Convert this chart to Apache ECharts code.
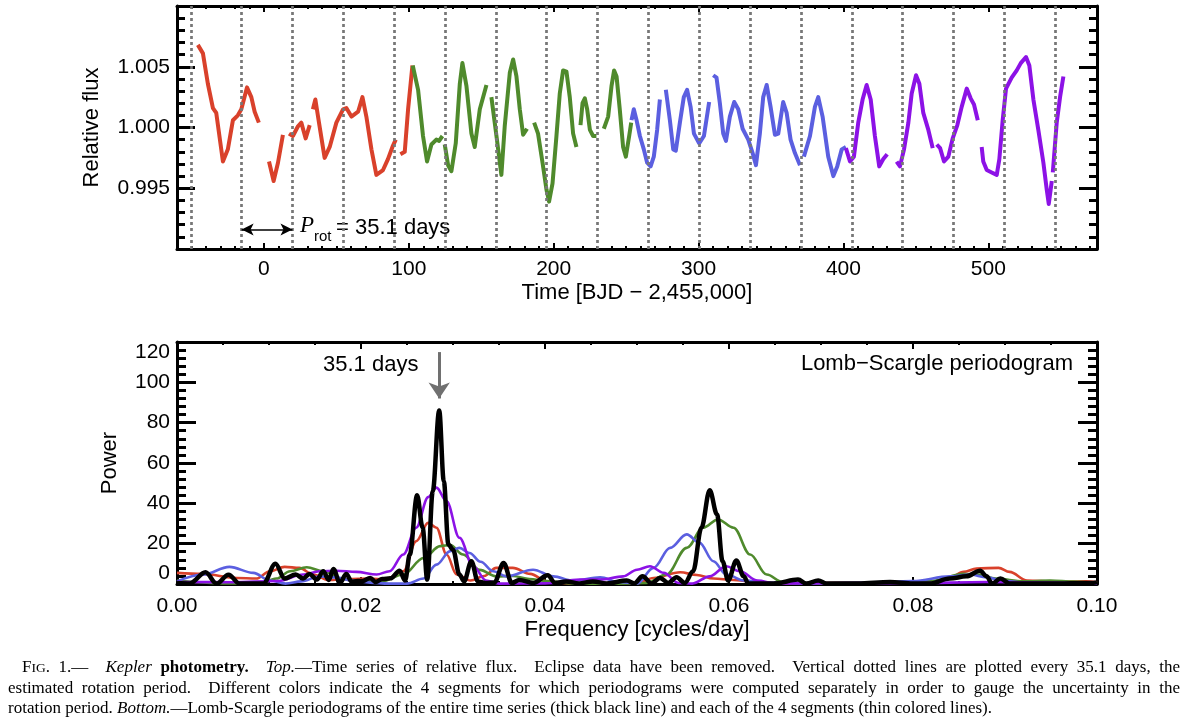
<!DOCTYPE html>
<html>
<head>
<meta charset="utf-8">
<script src="https://cdn.jsdelivr.net/npm/echarts@6/dist/echarts.min.js"></script>
<style>
html,body{margin:0;padding:0;background:#fff;}
#chart{position:absolute;left:0;top:0;width:1184px;height:720px;}
.cap{position:absolute;font-family:"Liberation Serif","Times New Roman",serif;font-size:17px;line-height:20px;color:#000;white-space:nowrap;}
.just{text-align:justify;text-align-last:justify;}
.sc{font-size:13.5px;}
</style>
</head>
<body>
<div id="chart"></div>
<div class="cap just" style="left:22px;top:657px;width:1158px;">F<span class="sc">IG</span>. 1.— &nbsp;<i>Kepler</i> <b>photometry.</b> &nbsp;<i>Top.</i>—Time series of relative flux. &nbsp;Eclipse data have been removed. &nbsp;Vertical dotted lines are plotted every 35.1 days, the</div>
<div class="cap just" style="left:8px;top:678px;width:1172px;">estimated rotation period. &nbsp;Different colors indicate the 4 segments for which periodograms were computed separately in order to gauge the uncertainty in the</div>
<div class="cap" style="left:8px;top:698px;">rotation period. <i>Bottom.</i>—Lomb-Scargle periodograms of the entire time series (thick black line) and each of the 4 segments (thin colored lines).</div>
<script>
// ---------- Top panel: relative flux time series (null = data gap) ----------
var redT = [-45.6,-42.1,-38.7,-35.2,-32.9,-28.3,-24.9,-21.4,-18.0,-15.6,-11.7,-8.7,-6.4,-3.5,null,3.5,6.7,9.7,13.1,null,17.3,20.0,23.5,25.8,28.8,31.6,null,33.8,35.5,38.0,41.9,45.4,50.0,54.6,56.9,60.4,65.0,68.0,70.7,74.2,77.6,82.2,85.6,88.7,91.0,null,94.2,97.2,99.5,102.5];
var redF = [1.0068,1.0061,1.0036,1.0016,1.0012,0.9972,0.9982,1.0006,1.0010,1.0015,1.0033,1.0025,1.0013,1.0004,null,0.9972,0.9956,0.9971,0.9994,null,0.9995,0.9993,1.0001,1.0004,0.9991,1.0002,null,1.0015,1.0023,1.0004,0.9975,0.9984,1.0004,1.0015,1.0016,1.0009,1.0013,1.0025,1.0009,0.9982,0.9961,0.9965,0.9974,0.9984,0.9990,null,0.9978,0.9980,1.0015,1.0051];
var greenT = [102.7,106.4,109.8,112.6,115.6,119.0,120.9,123.2,null,124.8,127.1,129.4,132.4,135.2,137.0,139.8,143.2,145.5,149.0,153.6,null,157.0,160.5,163.9,166.2,169.7,172.0,174.3,176.6,178.9,181.6,null,186.5,189.2,192.3,195.0,196.8,199.2,201.9,204.2,206.5,208.8,211.1,213.4,215.7,null,218.5,219.9,221.5,223.1,225.0,227.2,229.5,null,234.6,237.6,239.9,241.7,243.4,245.6,247.9,249.8,252.1,253.5];
var greenF = [1.0051,1.0031,0.9993,0.9972,0.9986,0.9990,0.9989,0.9993,null,0.9986,0.9969,0.9964,0.9987,1.0036,1.0053,1.0034,0.9995,0.9984,1.0015,1.0035,null,1.0025,0.9993,0.9961,1.0001,1.0045,1.0056,1.0042,1.0015,0.9994,0.9999,null,1.0004,0.9995,0.9971,0.9949,0.9939,0.9954,0.9993,1.0028,1.0047,1.0046,1.0025,0.9995,0.9984,null,1.0002,1.0020,1.0024,1.0015,0.9998,0.9993,0.9993,null,0.9999,1.0009,1.0034,1.0047,1.0042,1.0015,0.9984,0.9976,0.9993,1.0004];
var blueT = [253.7,255.3,257.2,259.5,262.2,264.5,266.9,269.1,271.4,273.3,null,277.4,280.2,282.5,284.3,287.1,289.8,292.1,294.5,296.8,300.4,303.7,307.3,null,310.1,312.4,314.7,317.0,318.9,321.6,324.6,327.4,330.4,334.3,337.3,339.6,342.3,344.6,347.0,349.7,352.7,355.0,358.4,360.8,363.5,366.5,370.0,null,372.7,376.9,380.3,382.6,385.6,389.5,393.0,395.7,398.8,401.7];
var blueF = [1.0006,1.0015,1.0006,0.9993,0.9982,0.9971,0.9968,0.9976,0.9998,1.0023,null,1.0031,1.0006,0.9982,0.9981,1.0004,1.0025,1.0031,1.0017,0.9995,0.9987,0.9993,1.0021,null,1.0043,1.0041,1.0020,0.9995,0.9989,1.0009,1.0021,1.0015,0.9999,0.9990,0.9979,0.9969,0.9995,1.0025,1.0035,1.0017,0.9994,0.9995,1.0021,1.0012,0.9990,0.9979,0.9969,null,0.9976,0.9993,1.0017,1.0025,1.0009,0.9976,0.9960,0.9968,0.9982,0.9984];
var purpleT = [401.7,404.5,407.2,410.2,413.2,416.0,418.8,421.7,424.7,427.5,430.2,null,436.7,439.0,441.8,444.8,447.1,450.1,452.4,455.1,458.6,461.6,null,464.4,466.7,469.4,472.4,475.4,478.6,481.6,485.1,487.8,490.1,492.7,null,495.4,496.5,498.9,502.3,505.8,507.6,509.9,512.2,516.1,519.6,522.4,526.0,528.3,531.1,534.5,538.0,540.3,541.7,543.8,null,544.5,547.2,549.5,551.8];
var purpleF = [0.9983,0.9972,0.9976,1.0004,1.0023,1.0035,1.0023,0.9993,0.9968,0.9974,0.9978,null,0.9972,0.9968,0.9982,1.0004,1.0028,1.0043,1.0036,1.0012,0.9998,0.9983,null,0.9986,0.9983,0.9972,0.9976,0.9991,1.0002,1.0017,1.0032,1.0024,1.0019,1.0006,null,0.9984,0.9972,0.9965,0.9963,0.9961,0.9974,1.0006,1.0032,1.0041,1.0047,1.0053,1.0058,1.0051,1.0023,0.9998,0.9971,0.9949,0.9937,0.9956,null,0.9963,1.0004,1.0025,1.0042];
// vertical dotted lines (every 35.1 days)
var dotTimes = [-50.5,-15.4,19.7,54.8,89.9,125.0,160.1,195.2,230.3,265.4,300.5,335.6,370.7,405.8,440.9,476.0,511.1,546.2];
var protArrow = [-15.4, 19.7, 0.9916];
var timeTicks = [0,100,200,300,400,500];

// ---------- Bottom panel: Lomb-Scargle periodograms ----------
var freqBlack = [0.0,0.0014,0.0031,0.0043,0.0056,0.0068,0.0094,0.0107,0.0117,0.0129,0.0137,0.0144,0.0152,0.0159,0.0165,0.0170,0.0177,0.0184,0.0190,0.0196,0.0202,0.0210,0.0216,0.0223,0.0232,0.0242,0.0248,0.0253,0.0261,0.0267,0.0272,0.0278,0.0285,0.0290,0.0295,0.0300,0.0307,0.0312,0.0320,0.0327,0.0335,0.0345,0.0355,0.0364,0.0372,0.0387,0.0403,0.0411,0.0423,0.0437,0.0452,0.0467,0.0489,0.0497,0.0506,0.0516,0.0525,0.0534,0.0543,0.0552,0.0561,0.0570,0.0579,0.0587,0.0593,0.0599,0.0608,0.0616,0.0621,0.0650,0.0675,0.0684,0.0697,0.0706,0.0740,0.0775,0.0800,0.0818,0.0840,0.0858,0.0873,0.0880,0.0886,0.0895,0.0905,0.0950,0.0993,0.1000];
var powBlack  = [0.5,0.3,5.8,0.2,4.6,0.2,0.3,10.0,2.7,4.7,2.7,5.0,2.2,6.3,2.0,7.5,0.5,5.0,1.0,1.5,1.5,3.0,1.0,2.5,2.8,6.6,1.7,14.6,44,27.9,2.2,46,86,51,19.6,17,4.7,1.3,11.3,1.3,0.5,0.8,10.4,0.5,2.0,0.5,4.3,0.5,1.3,0.3,1.3,0.3,1.7,0.3,3.8,0.3,3.0,0.5,3.3,0.5,6.3,27.9,46.5,34.5,11.3,1.7,11.6,3.8,0.2,0.3,2.2,0.2,1.7,0.2,0.3,1.0,0.2,0.2,2.7,3.8,6.6,3.8,0.2,2.7,0.2,0.2,0.5,0.8];
var freqRed = [0.0,0.0028,0.0065,0.0086,0.0101,0.0117,0.0133,0.0148,0.0165,0.0185,0.0210,0.0226,0.0246,0.0260,0.0273,0.0282,0.0293,0.0304,0.0319,0.0334,0.0347,0.0365,0.0384,0.0402,0.0430,0.0470,0.0500,0.0518,0.0547,0.0565,0.0583,0.0605,0.0620,0.0640,0.0680,0.0750,0.0820,0.0840,0.0855,0.0869,0.0893,0.0905,0.0924,0.0955,0.0988,0.1000];
var powRed  = [5.5,5.0,3.0,2.7,6.3,8.5,8.0,4.7,2.0,2.5,2.7,2.2,6.3,21.2,30.3,27.9,14.6,4.7,1.7,4.0,8.0,8.0,5.0,1.3,0.2,0.5,0.5,3.0,5.8,4.5,2.7,2.0,1.5,0.5,0.3,0.8,0.8,3.0,6.0,7.7,8.0,6.0,1.7,1.2,1.3,0.8];
var freqGreen = [0.0,0.0050,0.0090,0.0108,0.0123,0.0141,0.0159,0.0180,0.0200,0.0222,0.0246,0.0268,0.0286,0.0297,0.0311,0.0329,0.0347,0.0365,0.0383,0.0402,0.0430,0.0480,0.0510,0.0532,0.0554,0.0572,0.0588,0.0605,0.0623,0.0641,0.0658,0.0680,0.0760,0.0820,0.0855,0.0870,0.0890,0.0920,0.0949,0.0975,0.1000];
var powGreen  = [1.7,0.3,0.3,2.7,6.3,8.3,6.3,2.5,1.5,1.2,4.7,12.9,18.8,19.3,14.6,7.0,3.8,4.0,2.5,1.5,0.2,0.2,0.5,4.7,17.9,27.9,32.0,27.9,14.6,4.7,1.0,0.2,0.5,1.5,5.0,4.7,2.7,1.3,1.7,1.2,0.3];
var freqBlue = [0.0,0.0028,0.0057,0.0083,0.0101,0.0118,0.0135,0.0155,0.0173,0.0190,0.0210,0.0230,0.0250,0.0268,0.0282,0.0297,0.0307,0.0318,0.0330,0.0344,0.0358,0.0387,0.0409,0.0430,0.0460,0.0480,0.0500,0.0518,0.0536,0.0554,0.0568,0.0583,0.0597,0.0617,0.0640,0.0680,0.0750,0.0800,0.0840,0.0862,0.0880,0.0900,0.0930,0.1000];
var powBlue  = [1.3,4.7,8.5,5.5,1.7,0.2,1.3,3.8,3.3,1.7,0.7,0.2,0.2,2.7,9.6,16.3,17.9,15.4,11.0,6.3,3.8,7.1,3.8,1.7,3.3,1.0,0.2,8.0,17.9,24.6,20.4,11.3,4.7,1.7,0.7,0.3,0.7,1.5,3.8,4.7,3.3,1.5,0.3,0.2];
var freqPurple = [0.0,0.0060,0.0110,0.0137,0.0155,0.0173,0.0195,0.0217,0.0231,0.0246,0.0260,0.0273,0.0282,0.0293,0.0307,0.0322,0.0336,0.0350,0.0400,0.0438,0.0460,0.0485,0.0500,0.0514,0.0529,0.0545,0.0560,0.0579,0.0597,0.0612,0.0631,0.0650,0.0800,0.0880,0.1000];
var powPurple  = [1.0,0.9,1.5,4.7,6.3,6.6,6.0,4.7,6.3,14.6,27.9,43.1,47.8,41.1,22.9,8.8,1.7,0.2,0.3,2.2,2.2,3.8,7.1,8.8,5.5,0.5,0.2,3.8,8.8,6.3,1.7,0.3,0.4,1.0,0.3];
var peakArrow = [0.0285, 115, 92];

var COL = {red:'#d9412b', green:'#4f8a2c', blue:'#5b5fe0', purple:'#8c12e6', black:'#000000'};
var SANS = '"Liberation Sans", Arial, Helvetica, sans-serif';
var SERIF = '"Liberation Serif", "Times New Roman", serif';

function pairs(xs, ys){
  return xs.map(function(x,i){ return (ys[i]===null||x===null) ? ['-','-'] : [x, ys[i]]; });
}
var frameLine = {show:true, onZero:false, lineStyle:{color:'#000', width:3}};

function xAx(grid, pos, opts){
  var a = {gridIndex:grid, type:'value', position:pos, splitLine:{show:false},
    axisLine:frameLine, axisLabel:{show:false}, axisTick:{show:false}};
  for (var k in opts) a[k]=opts[k];
  return a;
}

var option = {
  animation:false,
  backgroundColor:'#ffffff',
  textStyle:{fontFamily:SANS},
  grid:[
    {left:177, top:6, width:920, height:243},
    {left:177, top:342, width:920, height:242}
  ],
  xAxis:[
    xAx(0,'bottom',{min:-60,max:575,
      axisTick:{show:true,inside:true,length:6,customValues:timeTicks,lineStyle:{color:'#000',width:2}},
      axisLabel:{show:true,customValues:timeTicks,color:'#000',fontSize:21,margin:10,fontFamily:SANS},
      name:'Time [BJD \u2212 2,455,000]',nameLocation:'middle',nameGap:33,
      nameTextStyle:{color:'#000',fontSize:22,fontFamily:SANS}}),
    xAx(0,'bottom',{min:-60,max:575,interval:10,axisLine:{show:false},
      axisTick:{show:true,inside:true,length:3,lineStyle:{color:'#000',width:2}}}),
    xAx(0,'top',{min:-60,max:575,
      axisTick:{show:true,inside:true,length:6,customValues:timeTicks,lineStyle:{color:'#000',width:2}}}),
    xAx(0,'top',{min:-60,max:575,interval:10,axisLine:{show:false},
      axisTick:{show:true,inside:true,length:3,lineStyle:{color:'#000',width:2}}}),
    xAx(1,'bottom',{min:0,max:0.1,interval:0.02,
      axisTick:{show:true,inside:true,length:7,lineStyle:{color:'#000',width:2}},
      minorTick:{show:true,splitNumber:4,length:3,lineStyle:{color:'#000',width:2}},
      axisLabel:{show:true,color:'#000',fontSize:21,margin:12,fontFamily:SANS,
        formatter:function(v){return v.toFixed(2);}},
      name:'Frequency [cycles/day]',nameLocation:'middle',nameGap:35,
      nameTextStyle:{color:'#000',fontSize:22,fontFamily:SANS}}),
    xAx(1,'top',{min:0,max:0.1,interval:0.02,
      axisTick:{show:true,inside:true,length:7,lineStyle:{color:'#000',width:2}},
      minorTick:{show:true,splitNumber:4,length:3,lineStyle:{color:'#000',width:2}}})
  ],
  yAxis:[
    {gridIndex:0,type:'value',position:'left',min:0.990,max:1.010,interval:0.005,
      splitLine:{show:false},axisLine:frameLine,
      axisTick:{show:true,inside:true,length:18,lineStyle:{color:'#000',width:3}},
      minorTick:{show:true,splitNumber:5,length:8,lineStyle:{color:'#000',width:3}},
      axisLabel:{show:true,color:'#000',fontSize:21,margin:7,fontFamily:SANS,showMinLabel:false,showMaxLabel:false,
        formatter:function(v){return v.toFixed(3);}},
      name:'Relative flux',nameLocation:'middle',nameGap:74,
      nameTextStyle:{color:'#000',fontSize:22,fontFamily:SANS}},
    {gridIndex:0,type:'value',position:'right',min:0.990,max:1.010,interval:0.005,
      splitLine:{show:false},axisLine:frameLine,axisLabel:{show:false},
      axisTick:{show:true,inside:true,length:18,lineStyle:{color:'#000',width:3}},
      minorTick:{show:true,splitNumber:5,length:8,lineStyle:{color:'#000',width:3}}},
    {gridIndex:1,type:'value',position:'left',min:0,max:120,interval:20,
      splitLine:{show:false},axisLine:frameLine,
      axisTick:{show:true,inside:true,length:19,lineStyle:{color:'#000',width:3}},
      minorTick:{show:true,splitNumber:5,length:9,lineStyle:{color:'#000',width:3}},
      axisLabel:{show:true,color:'#000',fontSize:21,margin:7,fontFamily:SANS,
        verticalAlignMaxLabel:'top',verticalAlignMinLabel:'bottom'},
      name:'Power',nameLocation:'middle',nameGap:56,
      nameTextStyle:{color:'#000',fontSize:22,fontFamily:SANS}},
    {gridIndex:1,type:'value',position:'right',min:0,max:120,interval:20,
      splitLine:{show:false},axisLine:frameLine,axisLabel:{show:false},
      axisTick:{show:true,inside:true,length:19,lineStyle:{color:'#000',width:3}},
      minorTick:{show:true,splitNumber:5,length:9,lineStyle:{color:'#000',width:3}}}
  ],
  series:[
    {type:'line',xAxisIndex:0,yAxisIndex:0,data:[],silent:true,
      markLine:{silent:true,symbol:'none',animation:false,label:{show:false},
        lineStyle:{color:'#777777',type:[3,3],width:2.7},
        data:dotTimes.map(function(t){return {xAxis:t};})}},
    {type:'line',name:'seg1',xAxisIndex:0,yAxisIndex:0,data:pairs(redT,redF),showSymbol:false,
      lineStyle:{color:COL.red,width:4,join:'round'},itemStyle:{color:COL.red},
      markLine:{silent:true,symbol:['arrow','arrow'],symbolSize:[9,12],label:{show:false},
        lineStyle:{color:'#000',width:1.5,type:'solid'},
        data:[[{coord:[protArrow[0],protArrow[2]]},{coord:[protArrow[1],protArrow[2]]}]]}},
    {type:'line',name:'seg2',xAxisIndex:0,yAxisIndex:0,data:pairs(greenT,greenF),showSymbol:false,
      lineStyle:{color:COL.green,width:4,join:'round'},itemStyle:{color:COL.green}},
    {type:'line',name:'seg3',xAxisIndex:0,yAxisIndex:0,data:pairs(blueT,blueF),showSymbol:false,
      lineStyle:{color:COL.blue,width:4,join:'round'},itemStyle:{color:COL.blue}},
    {type:'line',name:'seg4',xAxisIndex:0,yAxisIndex:0,data:pairs(purpleT,purpleF),showSymbol:false,
      lineStyle:{color:COL.purple,width:4,join:'round'},itemStyle:{color:COL.purple}},

    {type:'line',xAxisIndex:4,yAxisIndex:2,data:pairs(freqRed,powRed),showSymbol:false,smooth:0.35,smoothMonotone:'x',
      lineStyle:{color:COL.red,width:2.6},itemStyle:{color:COL.red}},
    {type:'line',xAxisIndex:4,yAxisIndex:2,data:pairs(freqGreen,powGreen),showSymbol:false,smooth:0.35,smoothMonotone:'x',
      lineStyle:{color:COL.green,width:2.6},itemStyle:{color:COL.green}},
    {type:'line',xAxisIndex:4,yAxisIndex:2,data:pairs(freqBlue,powBlue),showSymbol:false,smooth:0.35,smoothMonotone:'x',
      lineStyle:{color:COL.blue,width:2.6},itemStyle:{color:COL.blue}},
    {type:'line',xAxisIndex:4,yAxisIndex:2,data:pairs(freqPurple,powPurple),showSymbol:false,smooth:0.35,smoothMonotone:'x',
      lineStyle:{color:COL.purple,width:2.6},itemStyle:{color:COL.purple}},
    {type:'line',xAxisIndex:4,yAxisIndex:2,data:pairs(freqBlack,powBlack),showSymbol:false,smooth:0.35,smoothMonotone:'x',
      lineStyle:{color:COL.black,width:4.5,join:'round'},itemStyle:{color:COL.black},
      markLine:{silent:true,symbol:['none','arrow'],symbolSize:[16,16],label:{show:false},
        lineStyle:{color:'#707070',width:3,type:'solid'},
        data:[[{coord:[peakArrow[0],peakArrow[1]]},{coord:[peakArrow[0],peakArrow[2]]}]]}}
  ],
  graphic:[
    {type:'text',left:300,top:214,style:{text:'P',font:'italic 23px '+SERIF,fill:'#000'}},
    {type:'text',left:314,top:229,style:{text:'rot',font:'15px '+SANS,fill:'#000'}},
    {type:'text',left:336,top:217,style:{text:'= 35.1 days',font:'22px '+SANS,fill:'#000'}},
    {type:'text',left:323,top:354,style:{text:'35.1 days',font:'22px '+SANS,fill:'#000'}},
    {type:'text',right:111,top:353,style:{text:'Lomb\u2212Scargle periodogram',font:'22px '+SANS,fill:'#000'}}
  ]
};
var chart = echarts.init(document.getElementById('chart'), null, {renderer:'canvas'});
chart.setOption(option);
</script>
</body>
</html>
